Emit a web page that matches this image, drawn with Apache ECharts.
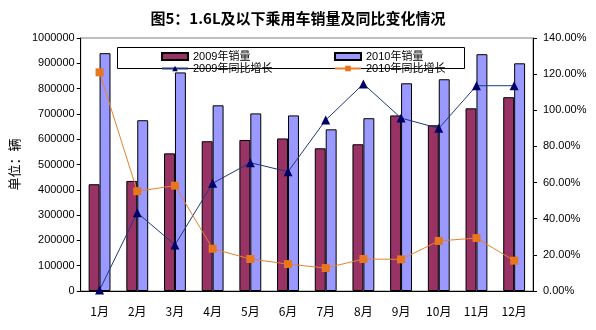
<!DOCTYPE html>
<html>
<head>
<meta charset="utf-8">
<script src="https://cdn.jsdelivr.net/npm/echarts@6/dist/echarts.min.js"></script>
<style>
  html, body { margin: 0; padding: 0; background: #fff; }
  #chart { width: 596px; height: 330px; }
</style>
</head>
<body>
<div id="chart"></div>
<script>
// Monthly sales of passenger cars with engines of 1.6L and below
const months = ['1月', '2月', '3月', '4月', '5月', '6月', '7月', '8月', '9月', '10月', '11月', '12月'];
const sales2009 = [422000, 435000, 544000, 592000, 597000, 603000, 564000, 580000, 694000, 655000, 722000, 766000];
const sales2010 = [940000, 675000, 864000, 734000, 702000, 694000, 639000, 683000, 821000, 837000, 936000, 900000];
// Year-on-year growth, in percent
const growth2009 = [0.5, 43.3, 25.5, 59.6, 71.0, 66.0, 94.6, 114.6, 95.7, 90.0, 113.6, 113.6];
const growth2010 = [121.0, 55.2, 58.3, 23.4, 17.7, 14.9, 12.7, 17.7, 17.5, 27.7, 29.3, 16.8];
const leftTicks = { min: 0, max: 1000000, interval: 100000 };
const rightTicks = { min: 0, max: 140, interval: 20 };

const chart = echarts.init(document.getElementById('chart'), null, { renderer: 'canvas' });

const axisFont = { fontFamily: 'Arial, "Liberation Sans", sans-serif', fontSize: 11, color: '#000' };
const legendText = { fontFamily: 'Arial, "Noto Sans CJK SC", sans-serif', fontSize: 11, color: '#000' };

chart.setOption({
  animation: false,
  backgroundColor: '#fff',
  title: {
    text: '图5：1.6L及以下乘用车销量及同比变化情况',
    left: 'center',
    top: 6,
    textStyle: { fontFamily: '"Noto Sans CJK SC", sans-serif', fontSize: 15, fontWeight: 'bold', color: '#000' }
  },
  grid: {
    left: 71, right: 63, top: 38, bottom: 39,
    show: true, borderColor: '#808080', borderWidth: 1, backgroundColor: 'transparent'
  },
  graphic: [{
    type: 'rect',
    shape: { x: 117.5, y: 47.5, width: 347, height: 21 },
    style: { fill: '#fff', stroke: '#000', lineWidth: 1 },
    z: 5
  }],
  legend: [{
    orient: 'vertical', left: 156, top: 46, itemGap: 1,
    itemWidth: 26, itemHeight: 7, z: 10,
    textStyle: legendText,
    data: [{ name: '2009年销量', icon: 'rect' }, '2009年同比增长']
  }, {
    orient: 'vertical', left: 329, top: 46, itemGap: 1,
    itemWidth: 26, itemHeight: 7, z: 10,
    textStyle: legendText,
    data: [{ name: '2010年销量', icon: 'rect' }, '2010年同比增长']
  }],
  xAxis: {
    type: 'category',
    data: months,
    boundaryGap: true,
    axisLine: { lineStyle: { color: '#000', width: 1 } },
    axisTick: { inside: true, length: 4, lineStyle: { color: '#000' } },
    axisLabel: { fontFamily: '"Noto Sans CJK SC", sans-serif', fontSize: 12, color: '#000', margin: 14 }
  },
  yAxis: [{
    type: 'value',
    min: leftTicks.min, max: leftTicks.max, interval: leftTicks.interval,
    name: '单位：辆',
    nameLocation: 'middle',
    nameGap: 50,
    nameRotate: 90,
    nameTextStyle: { fontFamily: '"Noto Sans CJK SC", sans-serif', fontSize: 13, color: '#000' },
    axisLine: { show: true, lineStyle: { color: '#000' } },
    axisTick: { show: true, length: 4, lineStyle: { color: '#000' } },
    splitLine: { show: false },
    axisLabel: Object.assign({ margin: 6, formatter: v => String(v) }, axisFont)
  }, {
    type: 'value',
    position: 'right',
    min: rightTicks.min, max: rightTicks.max, interval: rightTicks.interval,
    axisLine: { show: true, lineStyle: { color: '#000' } },
    axisTick: { show: true, length: 4, lineStyle: { color: '#000' } },
    splitLine: { show: false },
    axisLabel: Object.assign({ margin: 10, formatter: v => v.toFixed(2) + '%' }, axisFont)
  }],
  series: [{
    name: '2009年销量',
    type: 'bar',
    data: sales2009,
    barGap: '0%',
    barCategoryGap: '42%',
    itemStyle: { color: '#993366', borderColor: '#000', borderWidth: 1 }
  }, {
    name: '2010年销量',
    type: 'bar',
    data: sales2010,
    itemStyle: { color: '#9999FF', borderColor: '#000', borderWidth: 1 }
  }, {
    name: '2009年同比增长',
    type: 'line',
    yAxisIndex: 1,
    data: growth2009,
    symbol: 'triangle',
    symbolSize: 9,
    lineStyle: { color: '#1F3A7A', width: 1 },
    itemStyle: { color: '#000066' },
    z: 4
  }, {
    name: '2010年同比增长',
    type: 'line',
    yAxisIndex: 1,
    data: growth2010,
    symbol: 'rect',
    symbolSize: 8,
    lineStyle: { color: '#E8822E', width: 1 },
    itemStyle: { color: '#E8761E' },
    z: 4
  }]
});
</script>
</body>
</html>
